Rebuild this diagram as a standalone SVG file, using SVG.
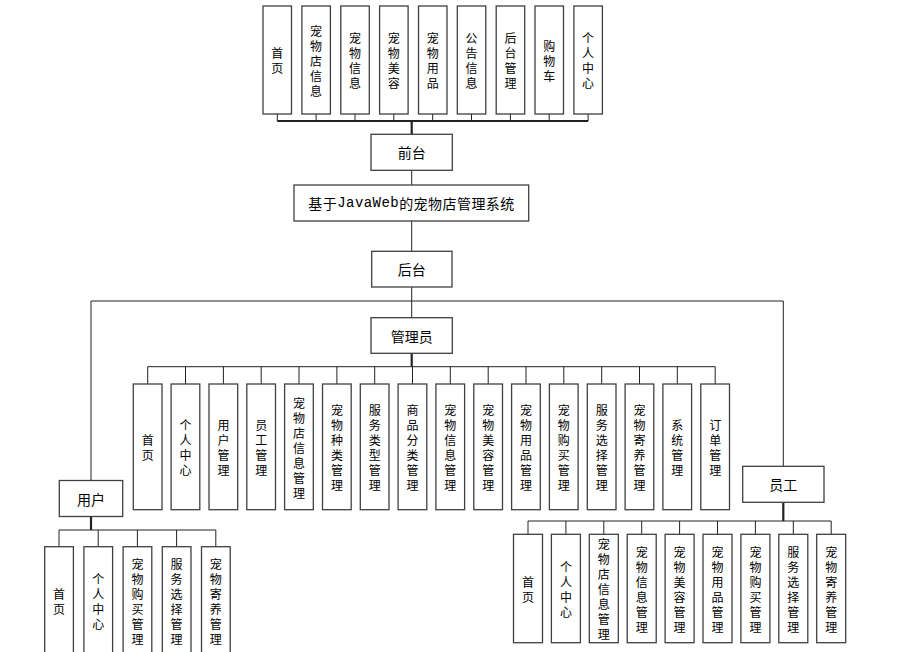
<svg xmlns="http://www.w3.org/2000/svg" width="917" height="652" viewBox="0 0 917 652">
<style>
rect{fill:#fff;stroke:#404040;stroke-width:1.3}
.c line{stroke:#222;stroke-width:1}
.c line.t{stroke-width:2.2}
text{font-family:"Noto Sans CJK SC","Liberation Sans",sans-serif;fill:#000;text-anchor:middle;dominant-baseline:central}
.v{font-size:12px}
.h{font-size:14px}
.m{font-family:"Liberation Mono","Noto Sans CJK SC",monospace}
</style>
<rect x="0" y="0" width="917" height="652" style="stroke:none;fill:#fff"/>
<g class="c" id="connectors">
<line x1="277.3" y1="114" x2="277.3" y2="121"/><line x1="316.1" y1="114" x2="316.1" y2="121"/><line x1="355" y1="114" x2="355" y2="121"/><line x1="393.8" y1="114" x2="393.8" y2="121"/><line x1="432.7" y1="114" x2="432.7" y2="121"/><line x1="471.5" y1="114" x2="471.5" y2="121"/><line x1="510.4" y1="114" x2="510.4" y2="121"/><line x1="549.2" y1="114" x2="549.2" y2="121"/><line x1="588.1" y1="114" x2="588.1" y2="121"/>
<line x1="277.3" y1="121" x2="588.1" y2="121" class="t"/>
<line x1="411.7" y1="121" x2="411.7" y2="134.3" class="t"/>
<line x1="411.7" y1="170.3" x2="411.7" y2="185"/>
<line x1="411.7" y1="221" x2="411.7" y2="251.3"/>
<line x1="411.7" y1="287" x2="411.7" y2="301"/>
<line x1="91" y1="301" x2="783.3" y2="301"/>
<line x1="411.7" y1="301" x2="411.7" y2="317.7"/>
<line x1="91" y1="301" x2="91" y2="480.5"/>
<line x1="783.3" y1="301" x2="783.3" y2="466.3"/>
<line x1="411.7" y1="353.3" x2="411.7" y2="366.7" class="t"/>
<line x1="147.7" y1="366.7" x2="715.2" y2="366.7"/>
<line x1="147.7" y1="366.7" x2="147.7" y2="384"/><line x1="185.5" y1="366.7" x2="185.5" y2="384"/><line x1="223.4" y1="366.7" x2="223.4" y2="384"/><line x1="261.2" y1="366.7" x2="261.2" y2="384"/><line x1="299" y1="366.7" x2="299" y2="384"/><line x1="336.9" y1="366.7" x2="336.9" y2="384"/><line x1="374.7" y1="366.7" x2="374.7" y2="384"/><line x1="412.5" y1="366.7" x2="412.5" y2="384"/><line x1="450.3" y1="366.7" x2="450.3" y2="384"/><line x1="488.2" y1="366.7" x2="488.2" y2="384"/><line x1="526" y1="366.7" x2="526" y2="384"/><line x1="563.8" y1="366.7" x2="563.8" y2="384"/><line x1="601.7" y1="366.7" x2="601.7" y2="384"/><line x1="639.5" y1="366.7" x2="639.5" y2="384"/><line x1="677.3" y1="366.7" x2="677.3" y2="384"/><line x1="715.2" y1="366.7" x2="715.2" y2="384"/>
<line x1="91" y1="516.5" x2="91" y2="530" class="t"/>
<line x1="59" y1="530" x2="215.8" y2="530"/>
<line x1="59" y1="530" x2="59" y2="546.7"/><line x1="98.2" y1="530" x2="98.2" y2="546.7"/><line x1="137.4" y1="530" x2="137.4" y2="546.7"/><line x1="176.6" y1="530" x2="176.6" y2="546.7"/><line x1="215.8" y1="530" x2="215.8" y2="546.7"/>
<line x1="783.3" y1="502.3" x2="783.3" y2="521" class="t"/>
<line x1="528" y1="521" x2="831.2" y2="521"/>
<line x1="528" y1="521" x2="528" y2="534.3"/><line x1="565.9" y1="521" x2="565.9" y2="534.3"/><line x1="603.8" y1="521" x2="603.8" y2="534.3"/><line x1="641.7" y1="521" x2="641.7" y2="534.3"/><line x1="679.6" y1="521" x2="679.6" y2="534.3"/><line x1="717.5" y1="521" x2="717.5" y2="534.3"/><line x1="755.4" y1="521" x2="755.4" y2="534.3"/><line x1="793.3" y1="521" x2="793.3" y2="534.3"/><line x1="831.2" y1="521" x2="831.2" y2="534.3"/>
</g>
<g id="front-items">
<g id="f1"><rect x="263" y="6" width="28.5" height="108"/><text class="v" x="277.3 277.3" y="52.5 67.5">首页</text></g>
<g id="f2"><rect x="301.9" y="6" width="28.5" height="108"/><text class="v" x="316.1 316.1 316.1 316.1 316.1" y="30 45 60 75 90">宠物店信息</text></g>
<g id="f3"><rect x="340.8" y="6" width="28.5" height="108"/><text class="v" x="355 355 355 355" y="37.5 52.5 67.5 82.5">宠物信息</text></g>
<g id="f4"><rect x="379.6" y="6" width="28.5" height="108"/><text class="v" x="393.8 393.8 393.8 393.8" y="37.5 52.5 67.5 82.5">宠物美容</text></g>
<g id="f5"><rect x="418.5" y="6" width="28.5" height="108"/><text class="v" x="432.7 432.7 432.7 432.7" y="37.5 52.5 67.5 82.5">宠物用品</text></g>
<g id="f6"><rect x="457.3" y="6" width="28.5" height="108"/><text class="v" x="471.5 471.5 471.5 471.5" y="37.5 52.5 67.5 82.5">公告信息</text></g>
<g id="f7"><rect x="496.2" y="6" width="28.5" height="108"/><text class="v" x="510.4 510.4 510.4 510.4" y="37.5 52.5 67.5 82.5">后台管理</text></g>
<g id="f8"><rect x="535" y="6" width="28.5" height="108"/><text class="v" x="549.2 549.2 549.2" y="45 60 75">购物车</text></g>
<g id="f9"><rect x="573.9" y="6" width="28.5" height="108"/><text class="v" x="588.1 588.1 588.1 588.1" y="37.5 52.5 67.5 82.5">个人中心</text></g>
</g>
<g id="qiantai"><rect x="371" y="134.3" width="81.3" height="36"/><text class="h" x="411.7" y="152.3">前台</text></g>
<g id="system"><rect x="294" y="185" width="234.7" height="36"/><text class="h" x="411.3" y="203" textLength="206" lengthAdjust="spacing">基于<tspan class="m">JavaWeb</tspan>的宠物店管理系统</text></g>
<g id="houtai"><rect x="371.7" y="251.3" width="80.3" height="35.7"/><text class="h" x="411.7" y="269.2">后台</text></g>
<g id="admin"><rect x="371" y="317.7" width="81.3" height="35.6"/><text class="h" x="411.7" y="335.5" font-size="13">管理员</text></g>
<g id="admin-items">
<g id="a1"><rect x="133.3" y="384" width="28.7" height="125.7"/><text class="v" x="147.7 147.7" y="439.5 454.5">首页</text></g>
<g id="a2"><rect x="171.1" y="384" width="28.7" height="125.7"/><text class="v" x="185.5 185.5 185.5 185.5" y="424.5 439.5 454.5 469.5">个人中心</text></g>
<g id="a3"><rect x="209" y="384" width="28.7" height="125.7"/><text class="v" x="223.4 223.4 223.4 223.4" y="424.5 439.5 454.5 469.5">用户管理</text></g>
<g id="a4"><rect x="246.8" y="384" width="28.7" height="125.7"/><text class="v" x="261.2 261.2 261.2 261.2" y="424.5 439.5 454.5 469.5">员工管理</text></g>
<g id="a5"><rect x="284.6" y="384" width="28.7" height="125.7"/><text class="v" x="299 299 299 299 299 299 299" y="402 417 432 447 462 477 492">宠物店信息管理</text></g>
<g id="a6"><rect x="322.5" y="384" width="28.7" height="125.7"/><text class="v" x="336.9 336.9 336.9 336.9 336.9 336.9" y="409.5 424.5 439.5 454.5 469.5 484.5">宠物种类管理</text></g>
<g id="a7"><rect x="360.3" y="384" width="28.7" height="125.7"/><text class="v" x="374.7 374.7 374.7 374.7 374.7 374.7" y="409.5 424.5 439.5 454.5 469.5 484.5">服务类型管理</text></g>
<g id="a8"><rect x="398.1" y="384" width="28.7" height="125.7"/><text class="v" x="412.5 412.5 412.5 412.5 412.5 412.5" y="409.5 424.5 439.5 454.5 469.5 484.5">商品分类管理</text></g>
<g id="a9"><rect x="435.9" y="384" width="28.7" height="125.7"/><text class="v" x="450.3 450.3 450.3 450.3 450.3 450.3" y="409.5 424.5 439.5 454.5 469.5 484.5">宠物信息管理</text></g>
<g id="a10"><rect x="473.8" y="384" width="28.7" height="125.7"/><text class="v" x="488.2 488.2 488.2 488.2 488.2 488.2" y="409.5 424.5 439.5 454.5 469.5 484.5">宠物美容管理</text></g>
<g id="a11"><rect x="511.6" y="384" width="28.7" height="125.7"/><text class="v" x="526 526 526 526 526 526" y="409.5 424.5 439.5 454.5 469.5 484.5">宠物用品管理</text></g>
<g id="a12"><rect x="549.4" y="384" width="28.7" height="125.7"/><text class="v" x="563.8 563.8 563.8 563.8 563.8 563.8" y="409.5 424.5 439.5 454.5 469.5 484.5">宠物购买管理</text></g>
<g id="a13"><rect x="587.3" y="384" width="28.7" height="125.7"/><text class="v" x="601.7 601.7 601.7 601.7 601.7 601.7" y="409.5 424.5 439.5 454.5 469.5 484.5">服务选择管理</text></g>
<g id="a14"><rect x="625.1" y="384" width="28.7" height="125.7"/><text class="v" x="639.5 639.5 639.5 639.5 639.5 639.5" y="409.5 424.5 439.5 454.5 469.5 484.5">宠物寄养管理</text></g>
<g id="a15"><rect x="662.9" y="384" width="28.7" height="125.7"/><text class="v" x="677.3 677.3 677.3 677.3" y="424.5 439.5 454.5 469.5">系统管理</text></g>
<g id="a16"><rect x="700.8" y="384" width="28.7" height="125.7"/><text class="v" x="715.2 715.2 715.2 715.2" y="424.5 439.5 454.5 469.5">订单管理</text></g>
</g>
<g id="user"><rect x="59.3" y="480.5" width="63.4" height="36"/><text class="h" x="91" y="498.5">用户</text></g>
<g id="user-items">
<g id="u1"><rect x="44.7" y="546.7" width="28.7" height="109"/><text class="v" x="59 59" y="593.5 608.5">首页</text></g>
<g id="u2"><rect x="83.9" y="546.7" width="28.7" height="109"/><text class="v" x="98.2 98.2 98.2 98.2" y="578.5 593.5 608.5 623.5">个人中心</text></g>
<g id="u3"><rect x="123.1" y="546.7" width="28.7" height="109"/><text class="v" x="137.4 137.4 137.4 137.4 137.4 137.4" y="563.5 578.5 593.5 608.5 623.5 638.5">宠物购买管理</text></g>
<g id="u4"><rect x="162.3" y="546.7" width="28.7" height="109"/><text class="v" x="176.6 176.6 176.6 176.6 176.6 176.6" y="563.5 578.5 593.5 608.5 623.5 638.5">服务选择管理</text></g>
<g id="u5"><rect x="201.5" y="546.7" width="28.7" height="109"/><text class="v" x="215.8 215.8 215.8 215.8 215.8 215.8" y="563.5 578.5 593.5 608.5 623.5 638.5">宠物寄养管理</text></g>
</g>
<g id="staff"><rect x="742.7" y="466.3" width="81.3" height="36"/><text class="h" x="783.3" y="484.3">员工</text></g>
<g id="staff-items">
<g id="s1"><rect x="513.5" y="534.3" width="29" height="108.4"/><text class="v" x="528 528" y="581 596">首页</text></g>
<g id="s2"><rect x="551.4" y="534.3" width="29" height="108.4"/><text class="v" x="565.9 565.9 565.9 565.9" y="566 581 596 611">个人中心</text></g>
<g id="s3"><rect x="589.3" y="534.3" width="29" height="108.4"/><text class="v" x="603.8 603.8 603.8 603.8 603.8 603.8 603.8" y="543.5 558.5 573.5 588.5 603.5 618.5 633.5">宠物店信息管理</text></g>
<g id="s4"><rect x="627.2" y="534.3" width="29" height="108.4"/><text class="v" x="641.7 641.7 641.7 641.7 641.7 641.7" y="551 566 581 596 611 626">宠物信息管理</text></g>
<g id="s5"><rect x="665.1" y="534.3" width="29" height="108.4"/><text class="v" x="679.6 679.6 679.6 679.6 679.6 679.6" y="551 566 581 596 611 626">宠物美容管理</text></g>
<g id="s6"><rect x="703" y="534.3" width="29" height="108.4"/><text class="v" x="717.5 717.5 717.5 717.5 717.5 717.5" y="551 566 581 596 611 626">宠物用品管理</text></g>
<g id="s7"><rect x="740.9" y="534.3" width="29" height="108.4"/><text class="v" x="755.4 755.4 755.4 755.4 755.4 755.4" y="551 566 581 596 611 626">宠物购买管理</text></g>
<g id="s8"><rect x="778.8" y="534.3" width="29" height="108.4"/><text class="v" x="793.3 793.3 793.3 793.3 793.3 793.3" y="551 566 581 596 611 626">服务选择管理</text></g>
<g id="s9"><rect x="816.7" y="534.3" width="29" height="108.4"/><text class="v" x="831.2 831.2 831.2 831.2 831.2 831.2" y="551 566 581 596 611 626">宠物寄养管理</text></g>
</g>
</svg>
